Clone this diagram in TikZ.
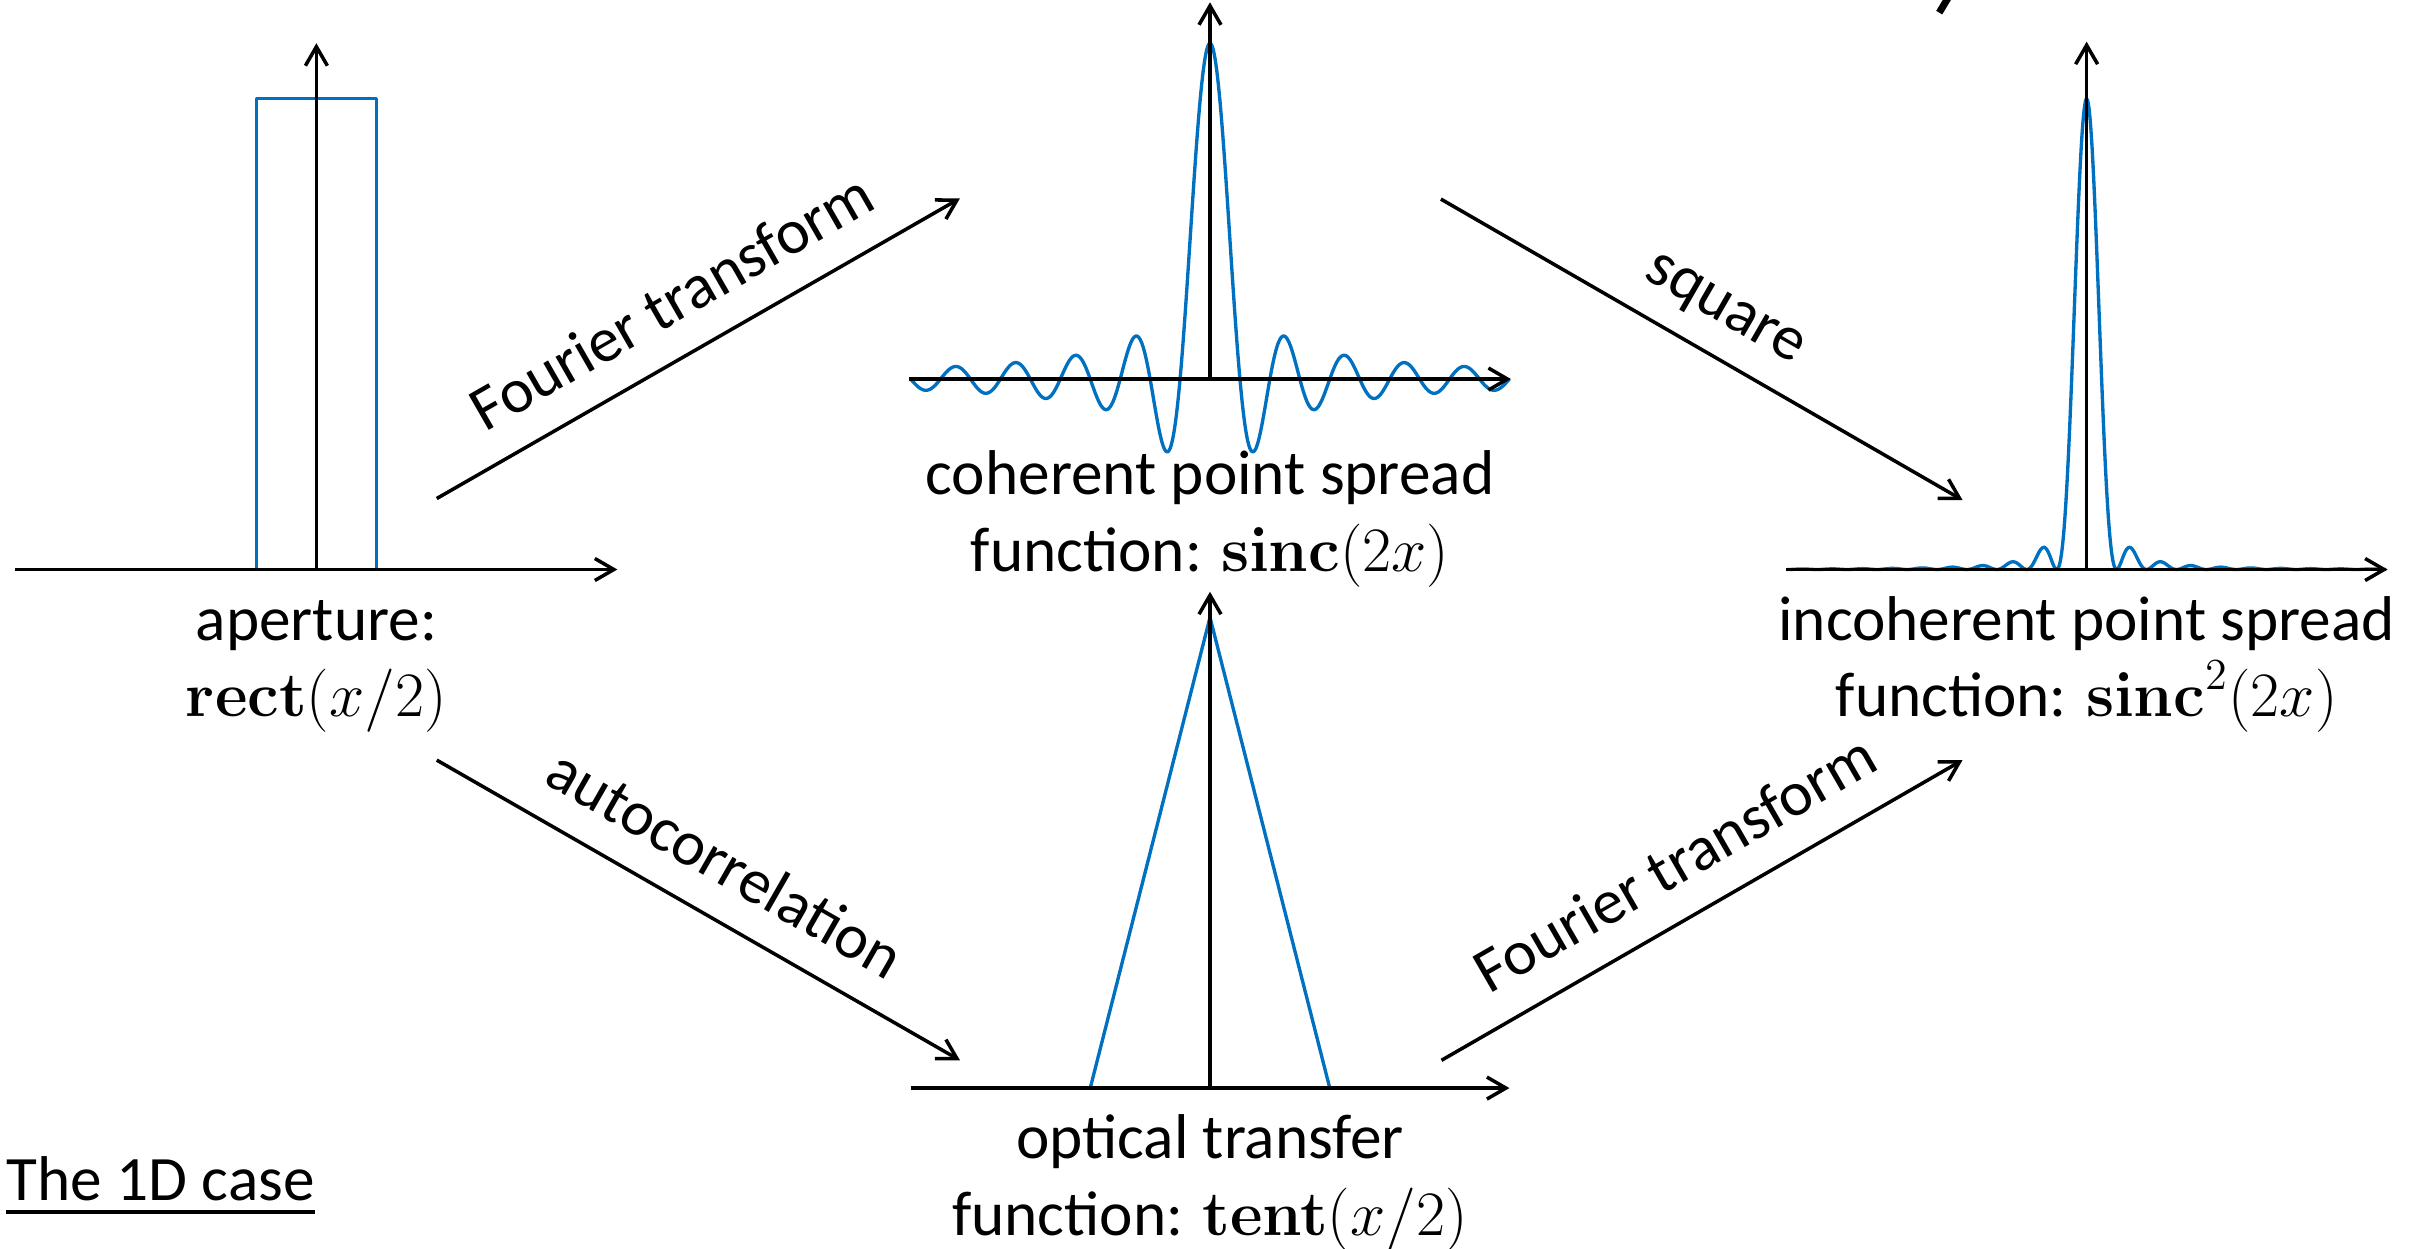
\RequirePackage{fix-cm}
\documentclass[tikz,border=0pt]{standalone}
\usepackage[no-math]{fontspec}
\setmainfont{Carlito}
\usetikzlibrary{arrows.meta,positioning}
\definecolor{curveblue}{RGB}{0,112,192}
\tikzset{
  ax/.style={line width=1pt,-{Straight Barb[length=1.9mm,width=2.2mm]}},
  curve/.style={curveblue,line width=0.95pt},
  lbl/.style={anchor=base,inner sep=0pt,font=\fontsize{18}{21.6}\selectfont},
  op/.style={line width=1pt,-{Straight Barb[length=1.9mm,width=2.2mm]}},
  oplbl/.style={midway,sloped,anchor=base,yshift=3.3mm,inner sep=0pt,font=\fontsize{18}{21.6}\selectfont}
}
\begin{document}
\begin{tikzpicture}[x=0.15434mm,y=-0.15434mm,line join=round]
  \def\u{19.4}
  \useasboundingbox (0,0) rectangle (1568,809);
  % aperture
  \draw[curve] (166.2,369) -- (166.2,64) -- (243.8,64) -- (243.8,369);
  \draw[ax] (10,369) -- (400,369);
  \draw[ax] (205,369) -- (205,28);
  \node[lbl] (ap1) at (205,414.7) {aperture:};
  \node[lbl] (ap2) at (205,464.4) {$\mathbf{rect}(x/2)$};
  % coherent psf
  \draw[curve,domain=-10:10,samples=400,smooth] plot ({784+\u*\x},{245.6-217.6*sin(180*\x)/(pi*\x)});
  \draw[ax] (589,245.6) -- (979,245.6);
  \draw[ax] (784,245.6) -- (784,1.5);
  \node[lbl] (cpsf1) at (784,320.7) {coherent point spread};
  \node[lbl] (cpsf2) at (784,370.4) {function: $\mathbf{sinc}(2x)$};
  % incoherent psf
  \draw[curve,domain=-10:10,samples=400,smooth] plot ({1352+\u*\x},{369-305*(sin(180*\x)/(pi*\x))^2});
  \draw[ax] (1157,369) -- (1547,369);
  \draw[ax] (1352,369) -- (1352,27);
  \node[lbl] (ipsf1) at (1352,414.7) {incoherent point spread};
  \node[lbl] (ipsf2) at (1352,464.4) {function: $\mathbf{sinc}^2(2x)$};
  % otf
  \draw[curve] (706.4,705) -- (784,400) -- (861.6,705);
  \draw[ax] (590,705) -- (978,705);
  \draw[ax] (784,705) -- (784,383.4);
  \node[lbl] (otf1) at (784,750.5) {optical transfer};
  \node[lbl] (otf2) at (784,800.2) {function: $\mathbf{tent}(x/2)$};
  % operations
  \coordinate (ftA) at (283,323);   \coordinate (ftB) at (622,128.5);
  \coordinate (sqA) at (933.6,129); \coordinate (sqB) at (1271.6,324);
  \coordinate (acA) at (283,492.5); \coordinate (acB) at (622,687);
  \coordinate (fbA) at (934,687);   \coordinate (fbB) at (1271.6,492.5);
  \draw[op] (ftA) -- (ftB) node[oplbl] {Fourier transform};
  \draw[op] (sqA) -- (sqB) node[oplbl] {square};
  \draw[op] (acA) -- (acB) node[oplbl] {autocorrelation};
  \draw[op] (fbA) -- (fbB) node[oplbl] {Fourier transform};
  % caption
  \node[lbl,anchor=base west] (case) at (4,778) {The 1D case};
  \draw[line width=0.95pt] ([yshift=-1.14mm]case.base west) -- ([yshift=-1.14mm]case.base east);
  % cut title stroke
  \draw[line width=2pt] (1262,-1) -- (1256.5,8.2);
\end{tikzpicture}
\end{document}
